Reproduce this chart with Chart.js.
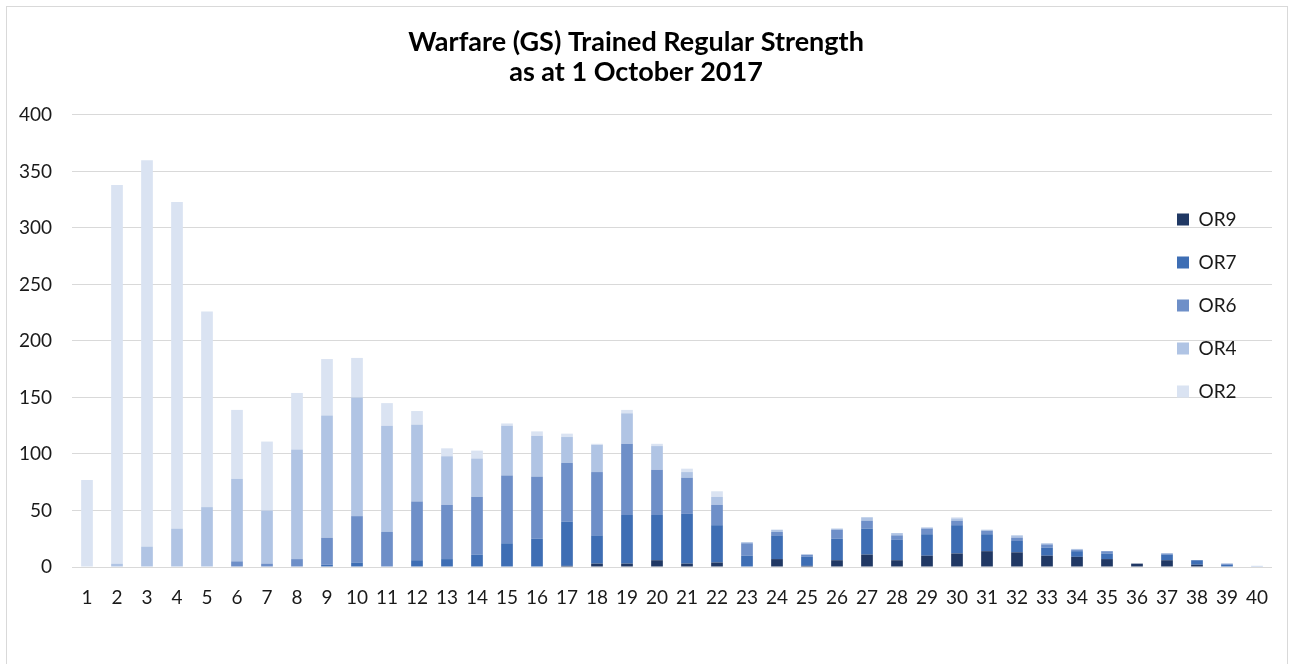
<!DOCTYPE html>
<html><head><meta charset="utf-8">
<script src="https://cdn.jsdelivr.net/npm/chart.js@4.4.1/dist/chart.umd.min.js"></script>
<style>
html,body{margin:0;padding:0;background:#fff;}
#wrap{position:relative;width:1289px;height:664px;overflow:hidden;}
#frame{position:absolute;left:6px;top:6px;width:1282px;height:700px;border:1px solid #d9d9d9;box-sizing:border-box;}
canvas{position:absolute;left:0;top:0;}
</style></head><body>
<div id="wrap"><div id="frame"></div><canvas id="c" width="1289" height="664"></canvas></div>
<script>
const categories = ['1','2','3','4','5','6','7','8','9','10','11','12','13','14','15','16','17','18','19','20',
  '21','22','23','24','25','26','27','28','29','30','31','32','33','34','35','36','37','38','39','40'];
const seriesNames = ['OR9','OR7','OR6','OR4','OR2'];
const or9 = [0,0,0,0,0,0,0,0,0,0, 0,0,0,0,0,0,1,3,3,6, 3,4,0,7,1,6,11,6,10,12, 14,13,10,9,7,3,6,2,0,0];
const or7 = [0,0,0,0,0,0,0,0,2,4, 0,6,7,11,21,25,39,25,43,40, 44,33,10,21,8,19,23,18,19,25, 15,10,7,5,5,0,5,4,2,0];
const or6 = [0,0,0,0,0,5,3,7,24,41, 31,52,48,51,60,55,52,56,63,40, 32,18,11,3,2,8,7,4,5,4, 3,3,3,1,2,0,1,0,1,0];
const or4 = [0,3,18,34,53,73,47,97,108,105, 94,68,43,34,44,36,23,24,27,21, 5,7,1,2,0,1,3,2,1,2, 1,2,1,1,0,0,0,0,0,1];
const or2 = [77,335,342,289,173,61,61,50,50,35, 20,12,7,7,2,4,3,1,3,2, 3,5,0,0,0,0,0,0,0,1, 0,0,0,0,0,0,0,0,0,0];
const yTicks = [0,50,100,150,200,250,300,350,400];
const titleLines = ['Warfare (GS) Trained Regular Strength','as at 1 October 2017'];
const colors = ['#203864','#3e6eb4','#6e8fc8','#b0c4e4','#dae3f2'];

const seriesData = [or9, or7, or6, or4, or2];
const datasets = seriesNames.map((n,i)=>({
  label: n,
  data: seriesData[i],
  backgroundColor: colors[i],
  borderWidth: 0,
  categoryPercentage: 1.0,
  barPercentage: 0.39
}));

const moveLegend = {
  id: 'moveLegend',
  afterLayout(chart){
    const lg = chart.legend;
    if(!lg) return;
    const w = lg.width;
    lg.left = 1153; lg.right = lg.left + w;
    lg.top = 186; lg.bottom = lg.top + 400; lg.height = 400;
  }
};

new Chart(document.getElementById('c'), {
  type: 'bar',
  data: { labels: categories, datasets },
  plugins: [moveLegend],
  options: {
    responsive: false,
    animation: false,
    devicePixelRatio: 1,
    layout: { padding: { top: 27, left: 0, right: 17, bottom: 55 } },
    plugins: {
      title: {
        display: true,
        text: titleLines,
        color: '#000',
        font: { family: 'Lato', size: 27, weight: 'bold', lineHeight: 1.11 },
        padding: { top: 0, bottom: 28 }
      },
      legend: {
        position: 'chartArea',
        align: 'start',
        labels: {
          color: '#1a1a1a',
          font: { family: 'Lato', size: 19 },
          boxWidth: 12, boxHeight: 12,
          padding: 24
        }
      },
      tooltip: { enabled: false }
    },
    scales: {
      x: {
        stacked: true,
        grid: { display: false, drawTicks: false },
        border: { display: false },
        ticks: { color: '#1a1a1a', font: { family: 'Lato', size: 19 }, padding: 19, maxRotation: 0, autoSkip: false },
        afterFit(s){ s.height = 42; }
      },
      y: {
        stacked: true,
        min: 0, max: 400,
        afterBuildTicks(s){ s.ticks = yTicks.map(v=>({value:v})); },
        grid: { color: '#d9d9d9', lineWidth: 1, drawTicks: false },
        border: { display: false },
        ticks: { color: '#1a1a1a', font: { family: 'Lato', size: 19 }, padding: 20 },
        afterFit(s){ s.width = 72; }
      }
    }
  }
});
</script>
</body></html>
